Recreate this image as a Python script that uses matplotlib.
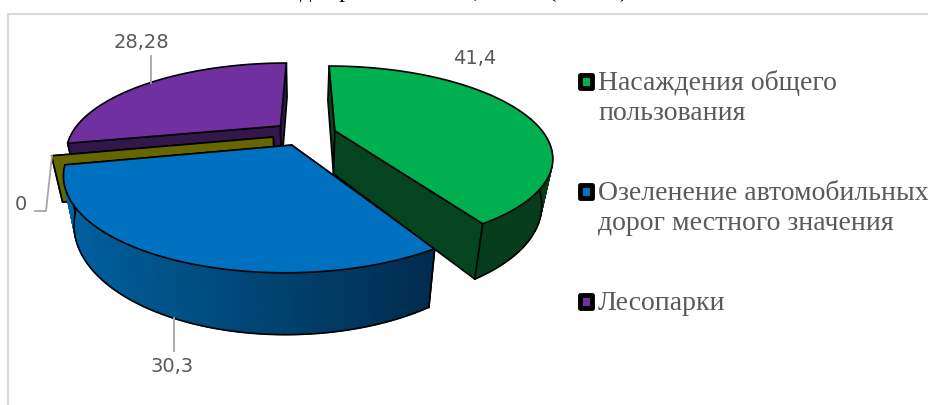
import numpy as np
import matplotlib
matplotlib.use('Agg')
import matplotlib.pyplot as plt
from matplotlib.patches import Polygon, Rectangle

# Values from the chart
categories = ['Насаждения общего\nпользования', 'Озеленение автомобильных\nдорог местного значения', 'Прочее', 'Лесопарки']
values = [41.4, 30.3, 0, 28.28]
value_labels = ['41,4', '30,3', '0', '28,28']
title = 'для районных зон, тысяч (2020 г.)'

top_colors = ['#00b050', '#0070c0', '#666600', '#7030a0']
wall_colors = ['#04441f', '#003a66', '#666600', '#33164a']
rim_left = ['#04441f', '#00619f', '#666600', '#33164a']
rim_right = ['#063c1c', '#002c4e', '#666600', '#33164a']

# pie shape in pixels, with a bit of perspective
cx, cy = 308, 135
rx, ry = 210, 85
persp = 0.28
start_angle = -90
explode = [(0.13, -0.05), (-0.075, 0.115), (-0.164, 0.024), (-0.135, -0.11)]


def project(u, v):
    s = 1 / (1 - persp * v)
    return cx + rx * u * s, cy + ry * v * s


def drop(x, y):
    # bottom face of the pie, lines lean in towards the middle
    return 302 + (x - 302) * 0.956, y * 1.133 + 25.6


fig = plt.figure(figsize=(9.29, 4.05), dpi=100)
ax = fig.add_axes([0, 0, 1, 1])
ax.set_xlim(0, 929)
ax.set_ylim(405, 0)
ax.axis('off')

# frame, only top and left are in the crop
ax.plot([8.5, 929], [13.5, 13.5], color='#d9d9d9', lw=1.5)
ax.plot([8.5, 8.5], [13.5, 405], color='#d9d9d9', lw=1.5)
ax.text(300, -3, title, family='Liberation Serif', fontsize=16.5, ha='left', va='baseline', color='black', clip_on=False)


def draw_slice(i, a0, a1):
    eu, ev = explode[i]
    ang = np.radians(np.linspace(a0, a1, 180))
    xs, ys = project(eu + np.cos(ang), ev + np.sin(ang))
    xa, ya = project(eu, ev)
    bx, by = drop(xs, ys)
    bxa, bya = drop(xa, ya)

    # flat walls
    for k in [0, -1]:
        wall = [(xa, ya), (xs[k], ys[k]), (bx[k], by[k]), (bxa, bya)]
        ax.add_patch(Polygon(wall, fc=wall_colors[i], ec='black', lw=1.2, joinstyle='round'))

    if a1 > a0:
        # outer side, front part only, with the shading running left to right
        front = np.where(np.sin(ang) > -0.15)[0]
        c0 = np.array(matplotlib.colors.to_rgb(rim_left[i]))
        c1 = np.array(matplotlib.colors.to_rgb(rim_right[i]))
        lo, hi = xs.min(), xs.max()
        under = list(zip(xs[front], ys[front])) + list(zip(bx[front][::-1], by[front][::-1]))
        ax.add_patch(Polygon(under, fc=c1, ec='none'))
        for k in front[:-1]:
            f = (xs[k] - lo) / (hi - lo)
            quad = [(xs[k], ys[k]), (xs[k + 1], ys[k + 1]), (bx[k + 1], by[k + 1]), (bx[k], by[k])]
            ax.add_patch(Polygon(quad, fc=c0 + (c1 - c0) * f, ec=c0 + (c1 - c0) * f, lw=0.8))
        ax.plot(bx[front], by[front], color='black', lw=1.2, zorder=1)
        # side edges, not where the front part just runs out behind the slice
        edges = [front[0]]
        if front[-1] == len(ang) - 1:
            edges.append(front[-1])
        for k in edges:
            ax.plot([xs[k], bx[k]], [ys[k], by[k]], color='black', lw=1.2, zorder=1)
        top = [(xa, ya)] + list(zip(xs, ys))
        ax.add_patch(Polygon(top, fc=top_colors[i], ec='black', lw=1.2, joinstyle='round'))


# slice angles come from the values
total = sum(values)
angles = [start_angle]
for v in values:
    angles.append(angles[-1] + v / total * 360)

# back slices first so the front ones cover them
for i in [3, 2, 1, 0]:
    draw_slice(i, angles[i], angles[i + 1])

# value labels and leader lines
lab_pos = [(475, 59), (172, 366), (21, 204), (141, 42)]
leaders = [None, [(174, 318), (174, 351)], [(35, 211), (46, 211), (52, 156)], [(151, 56), (151, 83)]]
for i in range(4):
    ax.text(lab_pos[i][0], lab_pos[i][1], value_labels[i], family='DejaVu Sans', fontsize=14, color='#595959', ha='center', va='center')
    if leaders[i] is not None:
        pts = np.array(leaders[i])
        ax.plot(pts[:, 0], pts[:, 1], color='#a6a6a6', lw=1.3, zorder=3)

# legend
leg_y = [82, 192, 302]
leg_idx = [0, 1, 3]
line_gap = 31
for y, i in zip(leg_y, leg_idx):
    ax.add_patch(Rectangle((580, y - 7), 12.5, 12.5, fc=top_colors[i], ec='black', lw=3.5, joinstyle='round'))
    lines = categories[i].split('\n')
    for k, line in enumerate(lines):
        ax.text(598, y + 1 + k * line_gap, line, family='Liberation Serif', fontsize=20, color='#595959', ha='left', va='center', clip_on=True)

fig.savefig('out.png', dpi=100)
